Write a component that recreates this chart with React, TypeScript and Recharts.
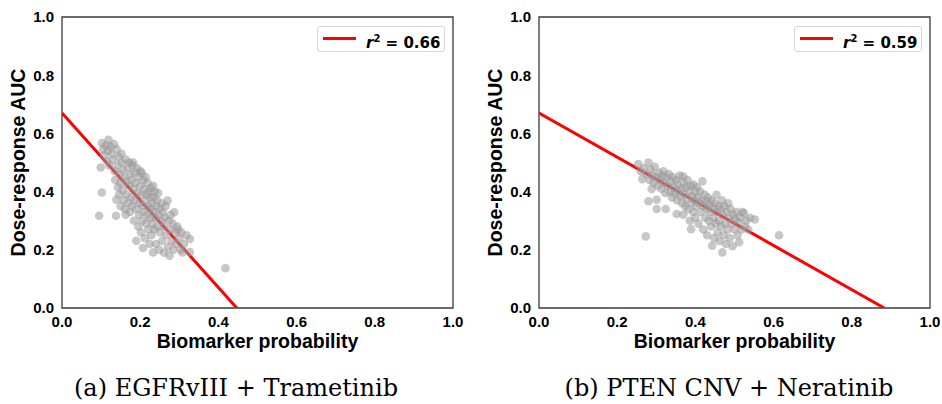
import {
  ScatterChart,
  Scatter,
  XAxis,
  YAxis,
  ReferenceLine,
  ReferenceArea
} from 'recharts';

// ==========================================
// DATA
// ==========================================

const axisTicks = [0, 0.2, 0.4, 0.6, 0.8, 1.0];

// (a) EGFRvIII + Trametinib: [biomarker probability, dose-response AUC]
const egfrPoints: [number, number][] = [
  [0.095, 0.317], [0.102, 0.397], [0.099, 0.483], [0.102, 0.567], [0.105, 0.545],
  [0.108, 0.525], [0.112, 0.558], [0.115, 0.505], [0.119, 0.578], [0.118, 0.54],
  [0.121, 0.49], [0.124, 0.555], [0.127, 0.53], [0.13, 0.51], [0.133, 0.563],
  [0.135, 0.47], [0.136, 0.44], [0.138, 0.317], [0.139, 0.372], [0.14, 0.545],
  [0.142, 0.49], [0.143, 0.415], [0.145, 0.52], [0.146, 0.39], [0.148, 0.46],
  [0.15, 0.35], [0.15, 0.43], [0.152, 0.53], [0.153, 0.5], [0.155, 0.405],
  [0.156, 0.475], [0.158, 0.37], [0.16, 0.45], [0.161, 0.34], [0.163, 0.321],
  [0.163, 0.51], [0.165, 0.435], [0.166, 0.39], [0.168, 0.48], [0.17, 0.36],
  [0.171, 0.42], [0.172, 0.5], [0.174, 0.33], [0.175, 0.46], [0.177, 0.38],
  [0.178, 0.44], [0.179, 0.35], [0.18, 0.49], [0.182, 0.5], [0.183, 0.41],
  [0.184, 0.3], [0.186, 0.465], [0.187, 0.37], [0.188, 0.43], [0.19, 0.231],
  [0.19, 0.34], [0.192, 0.48], [0.193, 0.395], [0.195, 0.28], [0.196, 0.45],
  [0.197, 0.32], [0.198, 0.36], [0.2, 0.42], [0.201, 0.47], [0.202, 0.26],
  [0.203, 0.39], [0.204, 0.464], [0.205, 0.3], [0.206, 0.35], [0.207, 0.206],
  [0.208, 0.44], [0.209, 0.33], [0.21, 0.41], [0.212, 0.24], [0.213, 0.37],
  [0.214, 0.45], [0.215, 0.29], [0.216, 0.39], [0.218, 0.32], [0.219, 0.43],
  [0.22, 0.35], [0.221, 0.27], [0.222, 0.4], [0.224, 0.22], [0.225, 0.31],
  [0.226, 0.38], [0.227, 0.34], [0.228, 0.412], [0.229, 0.25], [0.23, 0.36],
  [0.231, 0.29], [0.233, 0.191], [0.233, 0.42], [0.234, 0.33], [0.235, 0.38],
  [0.236, 0.27], [0.238, 0.4], [0.239, 0.31], [0.24, 0.22], [0.241, 0.35],
  [0.243, 0.37], [0.244, 0.28], [0.246, 0.395], [0.247, 0.32], [0.248, 0.2],
  [0.25, 0.34], [0.251, 0.26], [0.253, 0.3], [0.255, 0.36], [0.256, 0.23],
  [0.258, 0.33], [0.26, 0.28], [0.261, 0.19], [0.263, 0.31], [0.265, 0.35],
  [0.267, 0.25], [0.27, 0.369], [0.271, 0.21], [0.273, 0.3], [0.275, 0.18],
  [0.276, 0.27], [0.278, 0.32], [0.28, 0.23], [0.283, 0.29], [0.285, 0.2],
  [0.287, 0.329], [0.29, 0.26], [0.292, 0.22], [0.295, 0.28], [0.297, 0.269],
  [0.3, 0.24], [0.303, 0.2], [0.305, 0.26], [0.308, 0.191], [0.312, 0.22],
  [0.318, 0.25], [0.327, 0.237], [0.327, 0.192], [0.418, 0.137]
];

// (b) PTEN CNV + Neratinib
const ptenPoints: [number, number][] = [
  [0.254, 0.495], [0.26, 0.47], [0.264, 0.443], [0.268, 0.48], [0.273, 0.246],
  [0.275, 0.46], [0.28, 0.5], [0.28, 0.367], [0.283, 0.44], [0.286, 0.475],
  [0.288, 0.409], [0.29, 0.455], [0.293, 0.43], [0.296, 0.485], [0.3, 0.45],
  [0.301, 0.372], [0.301, 0.34], [0.304, 0.42], [0.307, 0.465], [0.31, 0.44],
  [0.313, 0.41], [0.316, 0.455], [0.318, 0.47], [0.32, 0.43], [0.323, 0.395],
  [0.324, 0.34], [0.326, 0.45], [0.329, 0.42], [0.332, 0.46], [0.335, 0.4],
  [0.337, 0.435], [0.34, 0.38], [0.342, 0.45], [0.345, 0.415], [0.347, 0.395],
  [0.35, 0.44], [0.352, 0.323], [0.353, 0.37], [0.355, 0.425], [0.357, 0.4],
  [0.36, 0.455], [0.362, 0.385], [0.364, 0.41], [0.366, 0.36], [0.369, 0.452],
  [0.369, 0.321], [0.37, 0.43], [0.372, 0.39], [0.374, 0.35], [0.376, 0.415],
  [0.378, 0.375], [0.38, 0.44], [0.382, 0.34], [0.384, 0.4], [0.386, 0.3],
  [0.388, 0.42], [0.389, 0.271], [0.39, 0.36], [0.392, 0.385], [0.394, 0.33],
  [0.395, 0.424], [0.397, 0.37], [0.399, 0.4], [0.4, 0.31], [0.402, 0.35],
  [0.404, 0.415], [0.406, 0.38], [0.408, 0.29], [0.41, 0.36], [0.412, 0.4],
  [0.414, 0.33], [0.416, 0.37], [0.418, 0.435], [0.42, 0.27], [0.421, 0.35],
  [0.423, 0.39], [0.425, 0.31], [0.427, 0.365], [0.429, 0.34], [0.43, 0.25],
  [0.432, 0.38], [0.434, 0.3], [0.436, 0.355], [0.438, 0.33], [0.44, 0.28],
  [0.441, 0.37], [0.443, 0.214], [0.444, 0.345], [0.446, 0.31], [0.448, 0.24],
  [0.45, 0.36], [0.452, 0.29], [0.454, 0.389], [0.455, 0.33], [0.457, 0.26],
  [0.459, 0.35], [0.46, 0.3], [0.462, 0.23], [0.464, 0.34], [0.466, 0.28],
  [0.468, 0.37], [0.469, 0.191], [0.47, 0.32], [0.472, 0.25], [0.474, 0.35],
  [0.476, 0.29], [0.478, 0.22], [0.48, 0.33], [0.482, 0.27], [0.484, 0.36],
  [0.486, 0.31], [0.488, 0.24], [0.49, 0.34], [0.492, 0.29], [0.495, 0.212],
  [0.497, 0.32], [0.5, 0.27], [0.502, 0.305], [0.505, 0.33], [0.508, 0.25],
  [0.51, 0.295], [0.512, 0.226], [0.515, 0.31], [0.518, 0.27], [0.52, 0.33],
  [0.524, 0.326], [0.527, 0.28], [0.53, 0.3], [0.535, 0.27], [0.54, 0.31],
  [0.552, 0.304], [0.614, 0.25]
];

// regression fit endpoints
const egfrFit = [{ x: 0, y: 0.67 }, { x: 0.447, y: 0 }];
const ptenFit = [{ x: 0, y: 0.67 }, { x: 0.883, y: 0 }];

const egfrR2 = '0.66';
const ptenR2 = '0.59';

const egfrCaption = '(a) EGFRvIII + Trametinib';
const ptenCaption = '(b) PTEN CNV + Neratinib';

// ==========================================
// STYLE
// ==========================================

const SANS = '"Liberation Sans", Arial, sans-serif';
const LEGEND_FONT = '"DejaVu Sans", sans-serif';
const SERIF = '"DejaVu Serif", serif';

const tickStyle = {
  fill: '#000',
  fontSize: 15,
  fontWeight: 700,
  fontFamily: SANS
};

const Dot = (props: any) => (
  <circle
    cx={props.cx}
    cy={props.cy}
    r={4.3}
    fill="#999999"
    fillOpacity={0.55}
  />
);

// ==========================================
// PANEL
// ==========================================

type PanelProps = {
  left: number;
  plotLeft: number;
  points: [number, number][];
  fit: { x: number; y: number }[];
  r2: string;
  caption: string;
  captionX: number;
};

function Panel({ left, plotLeft, points, fit, r2, caption, captionX }: PanelProps) {
  const W = 471;
  const H = 350;
  const plotRight = plotLeft + 391;
  const data = points.map(([x, y]) => ({ x, y }));

  return (
    <div style={{ position: 'absolute', left, top: 0, width: W, height: 404 }}>
      <ScatterChart
        width={W}
        height={H}
        margin={{ top: 17, right: W - plotRight, bottom: 12, left: plotLeft - 40 }}
      >
        <XAxis
          type="number"
          dataKey="x"
          domain={[0, 1]}
          ticks={axisTicks}
          tickFormatter={(v: number) => v.toFixed(1)}
          tick={tickStyle}
          tickLine={false}
          axisLine={false}
          height={30}
          allowDataOverflow
        />
        <YAxis
          type="number"
          dataKey="y"
          domain={[0, 1]}
          ticks={axisTicks}
          tickFormatter={(v: number) => v.toFixed(1)}
          tick={tickStyle}
          tickLine={false}
          axisLine={false}
          width={40}
          allowDataOverflow
        />
        <ReferenceArea
          x1={0}
          x2={1}
          y1={0}
          y2={1}
          fill="none"
          stroke="#3a3a3a"
          strokeWidth={1.3}
        />
        <Scatter
          data={data}
          shape={Dot}
          isAnimationActive={false}
        />
        <ReferenceLine
          segment={fit}
          stroke="#ff0000"
          strokeWidth={3}
          ifOverflow="hidden"
        />
      </ScatterChart>

      {/* LEGEND */}
      <div
        style={{
          position: 'absolute',
          left: plotRight - 136,
          top: 26,
          width: 128,
          height: 26,
          border: '1px solid #d6d6d6',
          borderRadius: 3,
          background: '#fff',
          boxSizing: 'border-box'
        }}
      >
        <div
          style={{
            position: 'absolute',
            left: 5,
            top: 10,
            width: 33,
            height: 3,
            background: '#ff0000'
          }}
        />
        <div
          style={{
            position: 'absolute',
            left: 48,
            top: 2,
            fontFamily: LEGEND_FONT,
            fontWeight: 700,
            fontSize: 15,
            lineHeight: '19px',
            whiteSpace: 'nowrap',
            color: '#000'
          }}
        >
          <i>r</i>
          <sup style={{ fontSize: 10, verticalAlign: 6 }}>2</sup> = {r2}
        </div>
      </div>

      {/* AXIS TITLES */}
      <div
        style={{
          position: 'absolute',
          left: (plotLeft + plotRight) / 2 - 150,
          width: 300,
          top: 330,
          textAlign: 'center',
          fontFamily: SANS,
          fontWeight: 700,
          fontSize: 19.5,
          color: '#000'
        }}
      >
        Biomarker probability
      </div>
      <div
        style={{
          position: 'absolute',
          left: plotLeft - 44 - 150,
          width: 300,
          top: 151,
          textAlign: 'center',
          fontFamily: SANS,
          fontWeight: 700,
          fontSize: 19.5,
          color: '#000',
          transform: 'rotate(-90deg)'
        }}
      >
        Dose-response AUC
      </div>

      {/* CAPTION */}
      <div
        style={{
          position: 'absolute',
          left: captionX - 200,
          width: 400,
          top: 374,
          textAlign: 'center',
          fontFamily: SERIF,
          fontSize: 24,
          color: '#000',
          whiteSpace: 'nowrap'
        }}
      >
        {caption}
      </div>
    </div>
  );
}

// ==========================================
// APP
// ==========================================

export default function App() {
  return (
    <div
      style={{
        position: 'absolute',
        left: 0,
        top: 0,
        width: 942,
        height: 404,
        background: '#fff',
        overflow: 'hidden'
      }}
    >
      <Panel
        left={0}
        plotLeft={62}
        points={egfrPoints}
        fit={egfrFit}
        r2={egfrR2}
        caption={egfrCaption}
        captionX={236}
      />
      <Panel
        left={471}
        plotLeft={68}
        points={ptenPoints}
        fit={ptenFit}
        r2={ptenR2}
        caption={ptenCaption}
        captionX={258}
      />
    </div>
  );
}
